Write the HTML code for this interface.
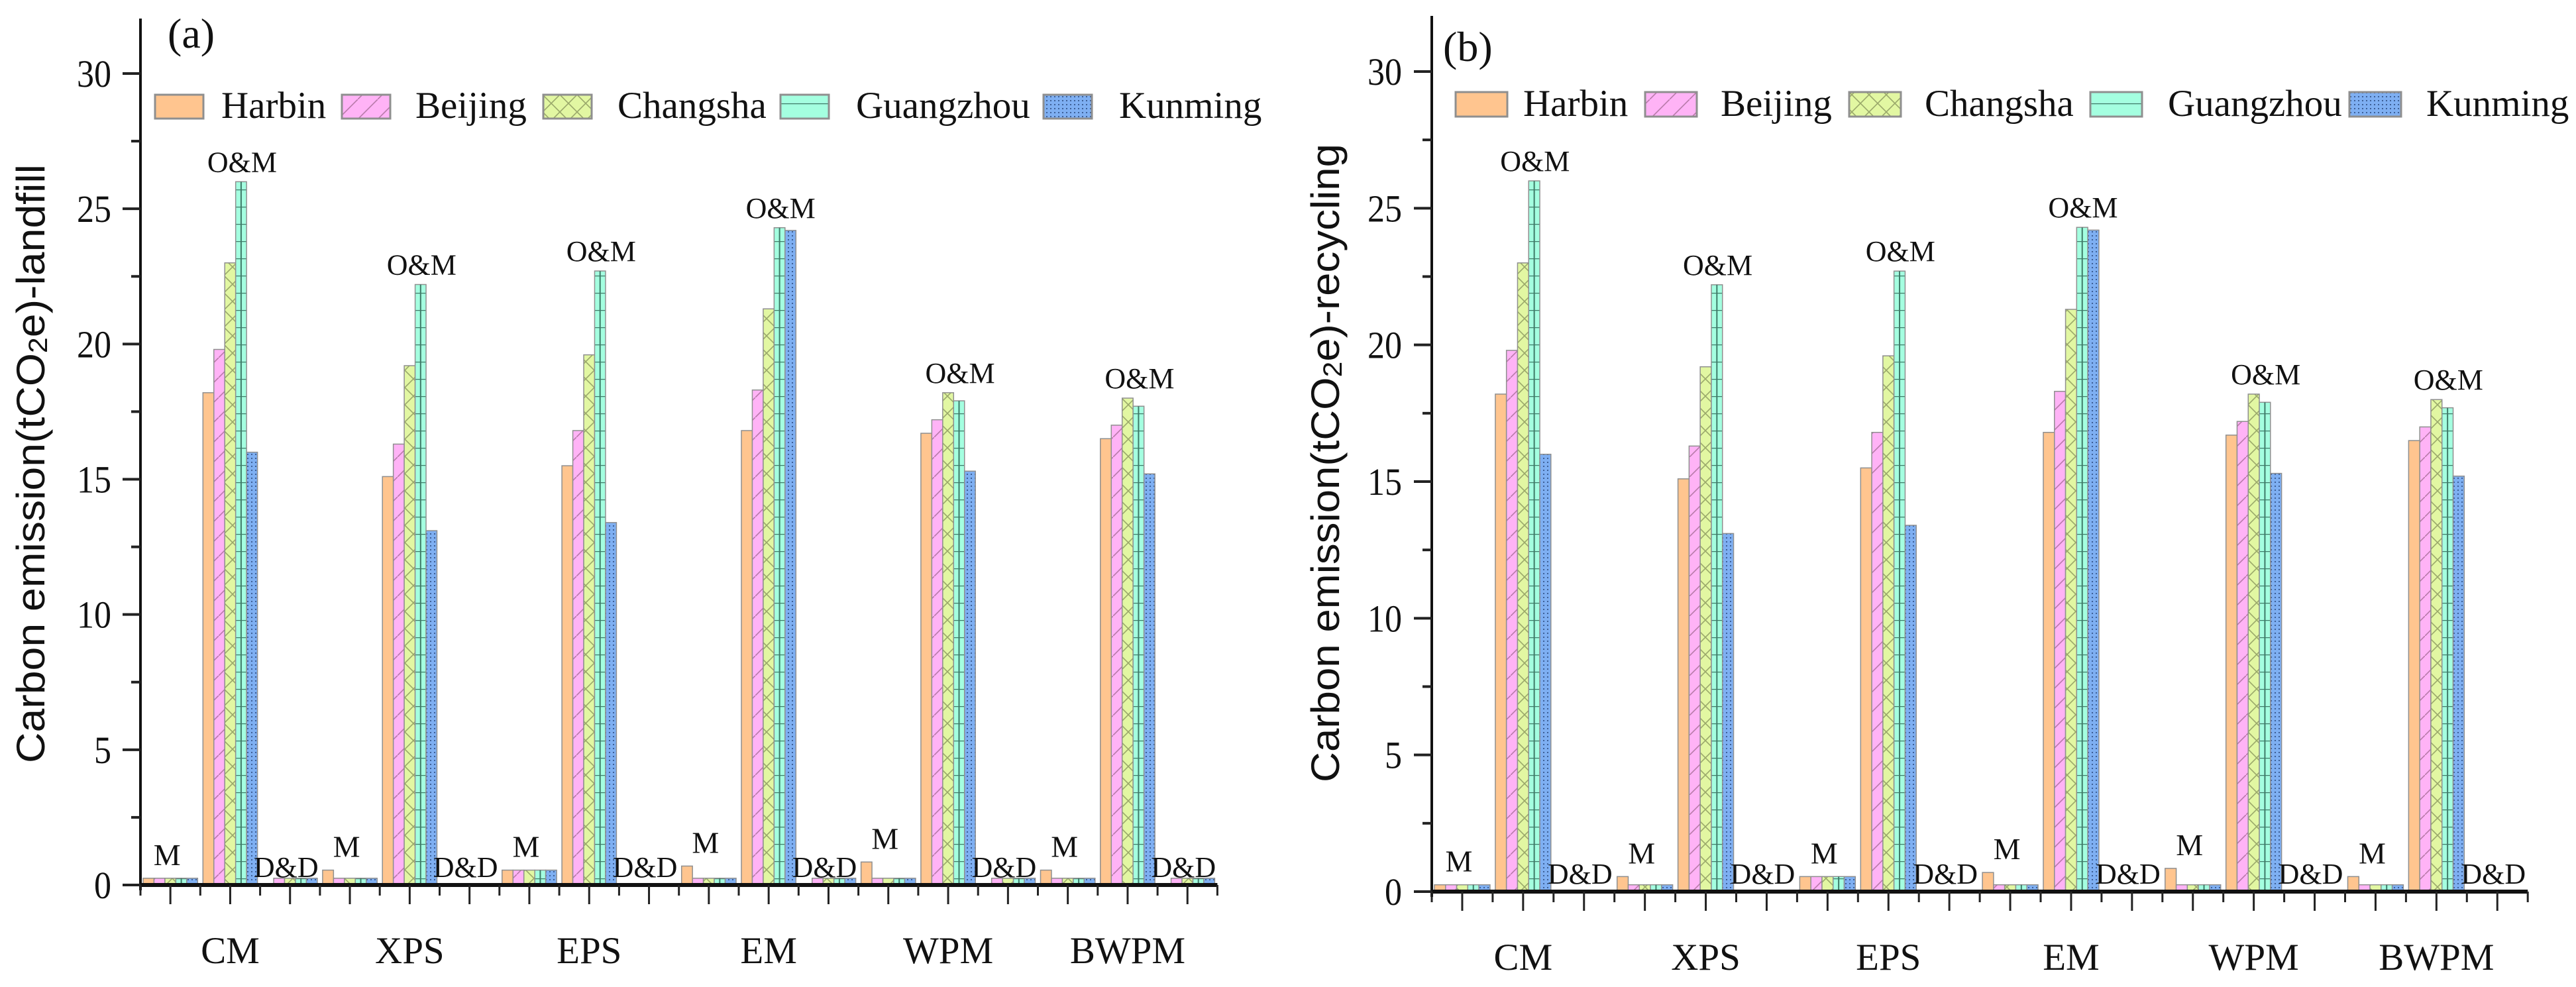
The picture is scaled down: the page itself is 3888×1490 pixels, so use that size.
<!DOCTYPE html>
<html><head><meta charset="utf-8"><style>
html,body{margin:0;padding:0;background:#fff}
svg{display:block}
.serif{font-family:"Liberation Serif",serif;fill:#111}
.sans{font-family:"Liberation Sans",sans-serif;fill:#111}
</style></head><body>
<svg id="chart" xmlns="http://www.w3.org/2000/svg" width="3888" height="1490" viewBox="0 0 3888 1490">
<defs>
<pattern id="p-beijing" patternUnits="userSpaceOnUse" width="30" height="30"><rect width="30" height="30" fill="#ffb3f6"/><path d="M0 30 L30 0" stroke="#b77aa8" stroke-width="1.6"/></pattern>
<pattern id="p-changsha" patternUnits="userSpaceOnUse" width="26" height="26"><rect width="26" height="26" fill="#e2f7a2"/><path d="M0 0 L26 26 M26 0 L0 26" stroke="#9aa86a" stroke-width="1.6"/></pattern>
<pattern id="p-guangzhou" patternUnits="userSpaceOnUse" width="40" height="26"><rect width="40" height="26" fill="#a4ffe0"/><path d="M0 0 L40 0" stroke="#3f7a68" stroke-width="2.5"/></pattern>
<pattern id="p-kunming" patternUnits="userSpaceOnUse" width="6" height="6"><rect width="6" height="6" fill="#7eaff2"/><rect x="1" y="1" width="2" height="2" fill="#3d5f96"/></pattern>
</defs>
<g id="root"></g>
</svg>
<script>
const cities = ["Harbin","Beijing","Changsha","Guangzhou","Kunming"];
const categories = ["CM","XPS","EPS","EM","WPM","BWPM"];
const phases = ["M","O&M","D&D"];
const yTicks = [0,5,10,15,20,25,30];
// values [category][city]
const mValues = [
  [0.25,0.25,0.25,0.25,0.25],
  [0.55,0.25,0.25,0.25,0.25],
  [0.55,0.55,0.55,0.55,0.55],
  [0.7,0.25,0.25,0.25,0.25],
  [0.85,0.25,0.25,0.25,0.25],
  [0.55,0.25,0.25,0.25,0.25]
];
const omValues = [
  [18.2,19.8,23.0,26.0,16.0],
  [15.1,16.3,19.2,22.2,13.1],
  [15.5,16.8,19.6,22.7,13.4],
  [16.8,18.3,21.3,24.3,24.2],
  [16.7,17.2,18.2,17.9,15.3],
  [16.5,17.0,18.0,17.7,15.2]
];
const ddLandfill = [
  [0.0,0.25,0.25,0.25,0.25],
  [0.03,0.03,0.03,0.03,0.03],
  [0.03,0.03,0.03,0.03,0.03],
  [0.03,0.25,0.25,0.25,0.25],
  [0.03,0.25,0.25,0.25,0.25],
  [0.03,0.25,0.25,0.25,0.25]
];
const ddRecycling = [
  [0.02,0.02,0.02,0.02,0.02],
  [0.02,0.02,0.02,0.02,0.02],
  [0.02,0.02,0.02,0.02,0.02],
  [0.02,0.02,0.02,0.02,0.02],
  [0.02,0.02,0.02,0.02,0.02],
  [0.02,0.02,0.02,0.02,0.02]
];

const fills = ["#ffc58f","url(#p-beijing)","url(#p-changsha)","url(#p-guangzhou)","url(#p-kunming)"];
const SERIF = '"Liberation Serif", serif';
const SANS = '"Liberation Sans", sans-serif';
const NS = "http://www.w3.org/2000/svg";
const root = document.getElementById('root');
function mk(tag, attrs, parent, text){
  const e = document.createElementNS(NS, tag);
  for (const k in attrs) e.setAttribute(k, attrs[k]);
  if (text !== undefined) e.textContent = text;
  (parent||root).appendChild(e);
  return e;
}

const panels = [
  {id:"a", label:"(a)", lx:253, ly:72, x0:212, top:28, base:1336, y30:111, cw:90.3, dd:ddLandfill,
   title:"landfill", titleX:46, titleY:700, titleLen:904, tickRight:168, catBase:1454,
   legSw:[234,516,820,1178,1575], legTx:[334,627,932,1292,1689], legY:143, legH:36, legW:73},
  {id:"b", label:"(b)", lx:2178, ly:92, x0:2161, top:24, base:1346, y30:108, cw:91.9, dd:ddRecycling,
   title:"recycling", titleX:2000, titleY:699, titleLen:964, tickRight:2116, catBase:1464,
   legSw:[2197,2483,2791,3155,3546], legTx:[2299,2597,2905,3272,3662], legY:139, legH:37, legW:78}
];

panels.forEach(P => {
  const g = mk('g', {});
  
  
  const yScale = v => P.base - v * (P.base - P.y30) / 30;
  const nClusters = categories.length * phases.length;
  const xEnd = P.x0 + nClusters * P.cw;
  const bw = (P.cw - 8) / cities.length;

  const barsG = mk('g', {}, g);
  
  
  categories.forEach((cat, ci) => {
    const sets = [mValues[ci], omValues[ci], P.dd[ci]];
    sets.forEach((vals, pi) => {
      const cx0 = P.x0 + (ci * 3 + pi) * P.cw;
      vals.forEach((v, k) => {
        const x = cx0 + 4 + k * bw;
        const y = yScale(v);
        const h = Math.max(P.base - y, 0);
        if (h <= 0) return;
        const r = mk('rect', {x:x, y:y, width:bw, height:h, fill:fills[k], stroke:"#8f8f8f", "stroke-width":1.5}, barsG);
        
        
        if (k === 3 && h > 8) {
          const l = mk('line', {x1:x+bw/2, x2:x+bw/2, y1:y, y2:P.base, stroke:"#3f7a68", "stroke-width":2}, barsG);
          
          
        }
      });
      const mx = Math.max(...vals);
      let tx, ty, fs = 44;
      if (pi === 0) { tx = cx0 + P.cw/2 - 5; ty = yScale(mx) - 20; fs = 46; }
      else if (pi === 1) { tx = cx0 + P.cw/2 + 18; ty = yScale(mx) - 15; }
      else { tx = cx0 + P.cw/2 - 6; ty = P.base - 12; }
      const t = mk('text', {x:tx, y:ty, "text-anchor":"middle", "font-size":fs, "font-family":SERIF, fill:"#111"}, g, phases[pi]);
      
      
    });
    const cl = mk('text', {x:P.x0 + (ci*3+1.5)*P.cw, y:P.catBase, "text-anchor":"middle", "font-size":57, "font-family":SERIF, fill:"#111"}, g, cat);
    
    
  });

  const ya = mk('line', {x1:P.x0, x2:P.x0, y1:P.top, y2:P.base+8, stroke:"#111", "stroke-width":4}, g);
  
  
  const xa = mk('line', {x1:P.x0-2, x2:xEnd, y1:P.base, y2:P.base, stroke:"#111", "stroke-width":6}, g);
  
  
  for (let i = 0; i <= nClusters; i++) {
    const x = P.x0 + i * P.cw;
    const t1 = mk('line', {x1:x, x2:x, y1:P.base, y2:P.base+16, stroke:"#222", "stroke-width":3}, g);
    
    
    if (i < nClusters) {
      const xc = x + P.cw/2;
      const t2 = mk('line', {x1:xc, x2:xc, y1:P.base, y2:P.base+29, stroke:"#222", "stroke-width":3}, g);
      
      
    }
  }
  yTicks.forEach(v => {
    const y = yScale(v);
    const t = mk('line', {x1:P.x0-27, x2:P.x0, y1:y, y2:y, stroke:"#222", "stroke-width":4}, g);
    
    
    const lb = mk('text', {x:P.tickRight, y:y+20, "text-anchor":"end", "font-size":58, "font-family":SERIF, fill:"#111", textLength: v>=10?52:26, lengthAdjust:"spacingAndGlyphs"}, g, String(v));
    
    
    if (v < 30) {
      const ym = yScale(v + 2.5);
      const m = mk('line', {x1:P.x0-14, x2:P.x0, y1:ym, y2:ym, stroke:"#222", "stroke-width":4}, g);
      
      
    }
  });

  const tt = mk('text', {x:P.titleX, y:P.titleY, transform:`rotate(-90 ${P.titleX} ${P.titleY})`, "text-anchor":"middle", "dominant-baseline":"central", "font-size":60, "font-family":SANS, fill:"#111", textLength:P.titleLen, lengthAdjust:"spacingAndGlyphs"}, g);
  
  
  mk('tspan', {}, tt, 'Carbon emission(tCO');
  mk('tspan', {"font-size":40, dy:12}, tt, '2');
  mk('tspan', {dy:-12}, tt, 'e)-' + P.title);

  const pl = mk('text', {x:P.lx, y:P.ly, "font-size":64, "font-family":SERIF, fill:"#111"}, g, P.label);
  
  

  const lg = mk('g', {}, g);
  
  
  cities.forEach((c, k) => {
    const sw = mk('rect', {x:P.legSw[k], y:P.legY, width:P.legW, height:P.legH, fill:fills[k], stroke:"#8f8f8f", "stroke-width":3}, lg);
    
    
    const lt = mk('text', {x:P.legTx[k], y:P.legY + P.legH - 1, "font-size":57, "font-family":SERIF, fill:"#111"}, lg, c);
    
    
  });
});
</script>
</body></html>
